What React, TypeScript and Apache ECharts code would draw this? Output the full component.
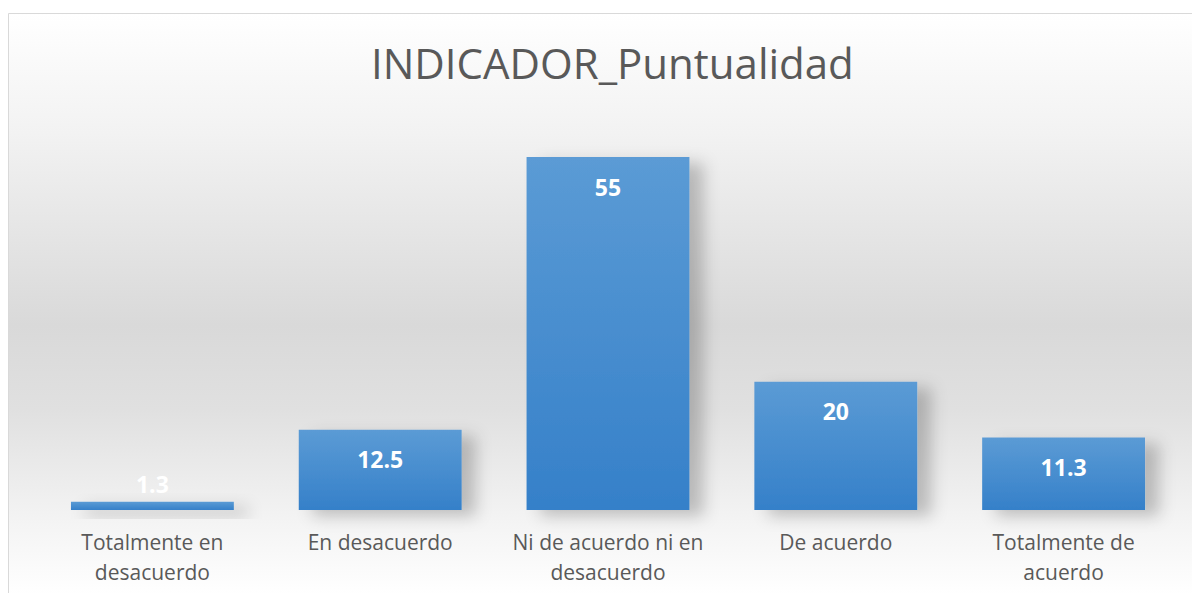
import React, { useEffect, useRef } from "react";
import * as echarts from "echarts";

const categories = [
  "Totalmente en desacuerdo",
  "En desacuerdo",
  "Ni de acuerdo ni en desacuerdo",
  "De acuerdo",
  "Totalmente de acuerdo",
];
const tickLabels = [
  "Totalmente en\ndesacuerdo",
  "En desacuerdo",
  "Ni de acuerdo ni en\ndesacuerdo",
  "De acuerdo",
  "Totalmente de\nacuerdo",
];
const values = [1.3, 12.5, 55, 20, 11.3];
const titleText = "INDICADOR_Puntualidad";

export default function App() {
  const ref = useRef<HTMLDivElement>(null);
  useEffect(() => {
    if (!ref.current) return;
    const chart = echarts.init(ref.current, null, { renderer: "svg" });
    const barGradient = new echarts.graphic.LinearGradient(0, 0, 0, 1, [
      { offset: 0, color: "#5b9bd5" },
      { offset: 1, color: "#3580c9" },
    ]);
    chart.setOption({
      animation: false,
      backgroundColor: "#ffffff",
      graphic: [
        {
          type: "rect",
          z: -10,
          silent: true,
          shape: { x: 8.5, y: 13.5, width: 1200, height: 600 },
          style: {
            fill: new echarts.graphic.LinearGradient(0, 0, 0, 1, [
              { offset: 0, color: "#ffffff" },
              { offset: 0.2, color: "#f2f2f2" },
              { offset: 0.52, color: "#d9d9d9" },
              { offset: 0.66, color: "#e0e0e0" },
              { offset: 0.85, color: "#f4f4f4" },
              { offset: 0.97, color: "#ffffff" },
              { offset: 1, color: "#ffffff" },
            ]),
            stroke: "#d9d9d9",
            lineWidth: 1,
          },
        },
      ],
      title: {
        text: titleText,
        left: 366,
        top: 36,
        textStyle: {
          fontFamily: "Open Sans",
          fontWeight: "normal",
          fontSize: 42,
          color: "#595959",
        },
      },
      grid: { left: 38.5, right: 14.5, top: 125, bottom: 83 },
      xAxis: {
        type: "category",
        data: categories,
        axisLine: { show: false },
        axisTick: { show: false },
        axisLabel: {
          formatter: (_v: string, i: number) => tickLabels[i],
          color: "#595959",
          fontFamily: "Open Sans",
          fontSize: 21,
          lineHeight: 30,
          margin: 17,
          interval: 0,
        },
      },
      yAxis: {
        type: "value",
        min: 0,
        max: 60,
        show: false,
        splitLine: { show: false },
      },
      series: [
        {
          type: "bar",
          barWidth: "71.5%",
          data: values.map((v) => ({
            value: v,
            label:
              v < 5
                ? { position: "top", distance: 6 }
                : { position: "insideTop", distance: 18 },
          })),
          itemStyle: {
            color: barGradient,
            shadowColor: "rgba(0,0,0,0.22)",
            shadowBlur: 16,
            shadowOffsetX: 14,
            shadowOffsetY: 6,
          },
          label: {
            show: true,
            color: "#ffffff",
            fontFamily: "Open Sans",
            fontWeight: "bold",
            fontSize: 23,
          },
        },
      ],
    });
    return () => chart.dispose();
  }, []);
  return (
    <div
      ref={ref}
      style={{ position: "fixed", left: 0, top: 0, width: 1192, height: 593 }}
    />
  );
}
